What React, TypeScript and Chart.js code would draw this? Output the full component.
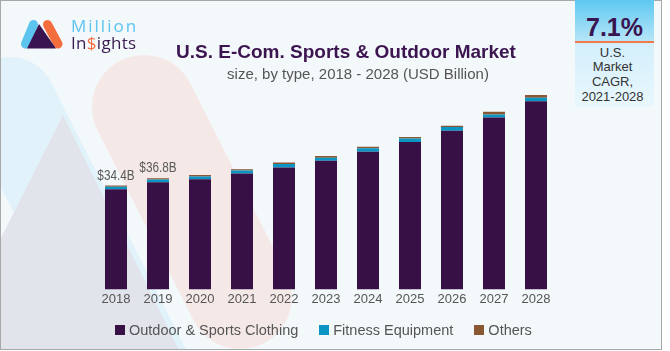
import React, { useEffect, useRef } from "react";
import { Chart, registerables } from "chart.js";

Chart.register(...registerables);

// ---- data ----
const years = ["2018", "2019", "2020", "2021", "2022", "2023", "2024", "2025", "2026", "2027", "2028"];
const clothing = [33.2, 35.5, 36.5, 38.4, 40.4, 42.6, 45.6, 48.8, 52.5, 56.9, 62.3];
const fitness = [0.8, 0.9, 0.9, 1.0, 1.1, 1.0, 1.1, 1.2, 1.3, 1.0, 1.2];
const others = [0.4, 0.4, 0.5, 0.4, 0.5, 0.6, 0.5, 0.5, 0.4, 0.9, 0.9];
const seriesNames = ["Outdoor & Sports Clothing", "Fitness Equipment", "Others"];
const labeledYears = ["2018", "2019"];
const cagrValue = "7.1%";
const cagrLines = ["U.S.", "Market", "CAGR,", "2021-2028"];

const COLORS = ["#371146", "#0b95c4", "#8a5733"];
const MAIN_FONT = "'Liberation Sans', Arial, sans-serif";

export default function App() {
  const ref = useRef<HTMLCanvasElement | null>(null);

  useEffect(() => {
    document.body.style.margin = "0";
    const totalsPlugin = {
      id: "totalsLabels",
      afterDatasetsDraw(chart: any) {
        const ctx = chart.ctx;
        const xs = chart.scales.x;
        const ys = chart.scales.y;
        ctx.save();
        ctx.font = `14px ${MAIN_FONT}`;
        ctx.fillStyle = "#595959";
        ctx.textAlign = "center";
        ctx.textBaseline = "alphabetic";
        labeledYears.forEach((yr) => {
          const i = years.indexOf(yr);
          const total = clothing[i] + fitness[i] + others[i];
          const px = xs.getPixelForValue(i);
          const py = ys.getPixelForValue(total) - 6;
          ctx.save();
          ctx.translate(px, py);
          ctx.scale(0.84, 1);
          ctx.fillText("$" + total.toFixed(1) + "B", 0, 0);
          ctx.restore();
        });
        ctx.restore();
      },
    };
    const chart = new Chart(ref.current as HTMLCanvasElement, {
      type: "bar",
      data: {
        labels: years,
        datasets: [
          { label: seriesNames[0], data: clothing, backgroundColor: COLORS[0] },
          { label: seriesNames[1], data: fitness, backgroundColor: COLORS[1] },
          { label: seriesNames[2], data: others, backgroundColor: COLORS[2] },
        ],
      },
      options: {
        responsive: false,
        devicePixelRatio: 1,
        animation: false,
        layout: { padding: { left: 95, right: 113, top: 78, bottom: 42 } },
        datasets: { bar: { categoryPercentage: 1, barPercentage: 0.524, borderWidth: 0 } },
        scales: {
          x: {
            stacked: true,
            grid: { display: false, drawTicks: false },
            border: { display: false },
            ticks: { color: "#555", font: { size: 13, family: MAIN_FONT }, padding: 2 },
          },
          y: { stacked: true, display: false, min: 0, max: 70 },
        },
        plugins: { legend: { display: false }, tooltip: { enabled: false }, title: { display: false } },
      },
      plugins: [totalsPlugin],
    } as any);
    return () => chart.destroy();
  }, []);

  return (
    <div style={{ position: "relative", width: 670, height: 351, overflow: "hidden", background: "#fff" }}>
      <div
        style={{
          position: "absolute",
          left: 0,
          top: 0,
          width: 662,
          height: 350,
          boxSizing: "border-box",
          border: "1px solid #a8a8a8",
          background: "#f3f8fb",
          overflow: "hidden",
        }}
      >
        <svg width={662} height={350} style={{ position: "absolute", left: -1, top: -1 }}>
          <line x1={10} y1={103} x2={150} y2={380} stroke="#e2f2fa" strokeWidth={92} strokeLinecap="round" />
          <line x1={144} y1={107} x2={240} y2={297} stroke="#f5e9e8" strokeWidth={104} strokeLinecap="round" />
          <polygon points="63,115 0,240 0,352 180,352" fill="#e1e4eb" />
        </svg>
      </div>
      <canvas ref={ref} width={670} height={351} style={{ position: "absolute", left: 0, top: 0 }} />
      {/* logo */}
      <svg width={70} height={60} style={{ position: "absolute", left: 0, top: 0 }}>
        <line x1={25.5} y1={44} x2={33.5} y2={24.5} stroke="#5dc4ef" strokeWidth={9} strokeLinecap="round" />
        <line x1={47.5} y1={24.5} x2={58} y2={44} stroke="#f46d3c" strokeWidth={9} strokeLinecap="round" />
        <polygon points="39,24 27,48.5 56,48.5" fill="#3a1450" />
      </svg>
      <div
        style={{
          position: "absolute",
          left: 71,
          top: 17,
          fontFamily: "'Open Sans', sans-serif",
          fontSize: 17,
          lineHeight: "17px",
          letterSpacing: 2,
          color: "#5dc4ef",
          whiteSpace: "nowrap",
        }}
      >
        Million
      </div>
      <div
        style={{
          position: "absolute",
          left: 71,
          top: 34,
          fontFamily: "'Open Sans', sans-serif",
          fontSize: 17,
          lineHeight: "17px",
          letterSpacing: 0.3,
          color: "#3c1a52",
          whiteSpace: "nowrap",
        }}
      >
        In<span style={{ color: "#f46d3c" }}>$</span>ights
      </div>
      {/* title */}
      <div
        style={{
          position: "absolute",
          left: 146,
          width: 400,
          top: 42,
          textAlign: "center",
          fontFamily: MAIN_FONT,
          fontWeight: "bold",
          fontSize: 19,
          lineHeight: "19px",
          color: "#3b1450",
          whiteSpace: "nowrap",
        }}
      >
        U.S. E-Com. Sports &amp; Outdoor Market
      </div>
      <div
        style={{
          position: "absolute",
          left: 158,
          width: 400,
          top: 66,
          textAlign: "center",
          fontFamily: MAIN_FONT,
          fontSize: 15,
          lineHeight: "15px",
          color: "#555",
          whiteSpace: "nowrap",
        }}
      >
        size, by type, 2018 - 2028 (USD Billion)
      </div>
      {/* CAGR box */}
      <div style={{ position: "absolute", left: 575, top: 0, width: 79, height: 107 }}>
        <div
          style={{
            position: "absolute",
            left: 0,
            top: 0,
            width: 79,
            height: 41,
            background: "linear-gradient(#5ec8f1, #b7e5f8)",
          }}
        />
        <div style={{ position: "absolute", left: 0, top: 41, width: 79, height: 2, background: "#f07a4c" }} />
        <div
          style={{
            position: "absolute",
            left: 0,
            top: 43,
            width: 79,
            height: 64,
            background: "linear-gradient(#d3effb, #e9f7fd)",
          }}
        />
        <div
          style={{
            position: "absolute",
            left: 0,
            top: 15,
            width: 79,
            textAlign: "center",
            fontFamily: MAIN_FONT,
            fontWeight: "bold",
            fontSize: 25,
            lineHeight: "25px",
            color: "#3a1450",
          }}
        >
          {cagrValue}
        </div>
        <div
          style={{
            position: "absolute",
            left: -2,
            top: 45.5,
            width: 79,
            textAlign: "center",
            fontFamily: MAIN_FONT,
            fontSize: 13,
            lineHeight: "14.7px",
            color: "#333",
          }}
        >
          {cagrLines.map((l) => (
            <div key={l}>{l}</div>
          ))}
        </div>
      </div>
      {/* legend */}
      <div
        style={{
          position: "absolute",
          left: 115,
          top: 322,
          display: "flex",
          gap: 21,
          fontFamily: MAIN_FONT,
          fontSize: 14.5,
          lineHeight: "16px",
          color: "#555",
          whiteSpace: "nowrap",
        }}
      >
        {seriesNames.map((n, i) => (
          <div key={n} style={{ display: "flex", alignItems: "center", gap: 4 }}>
            <span style={{ display: "inline-block", width: 10, height: 10, background: COLORS[i] }} />
            <span>{n}</span>
          </div>
        ))}
      </div>
    </div>
  );
}
